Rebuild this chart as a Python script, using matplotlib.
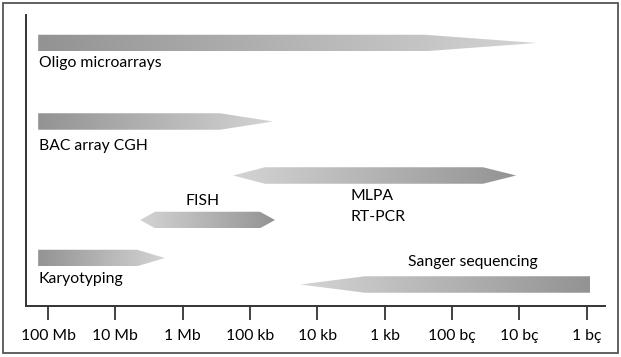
import numpy as np
import matplotlib
matplotlib.use("Agg")
import matplotlib.pyplot as plt
from matplotlib.patches import Polygon, Rectangle
from matplotlib.colors import LinearSegmentedColormap

# ---- data ----
tick_labels = ["100 Mb", "10 Mb", "1 Mb", "100 kb", "10 kb", "1 kb", "100 bç", "10 bç", "1 bç"]
tick_bp = [1e8, 1e7, 1e6, 1e5, 1e4, 1e3, 1e2, 1e1, 1e0]

methods = ["Oligo microarrays", "BAC array CGH", "MLPA\nRT-PCR", "FISH", "Karyotyping", "Sanger sequencing"]
start_bp = [1.4e8, 1.4e8, 1.79e5, 4.3e6, 1.4e8, 1.8e4]   # largest size (left end)
end_bp = [5.5, 4.56e4, 11.2, 4.26e4, 1.83e6, 0.89]      # smallest size (right end)

# ---- styles ----
# arrow kind: 'right' (flat left, point right), 'both', 'left' (point left, flat right)
kinds = ["right", "right", "both", "both", "right", "left"]
head_left = [0, 0, 0.475, 0.223, 0, 0.965]     # decades
head_right = [1.664, 0.787, 0.49, 0.223, 0.415, 0]
row_y = [263, 184.5, 130.5, 86, 48, 21.5]        # axes units (pixel-like)
bar_h = 16.5
dark_to_light = [True, True, False, False, True, False]

W, H = 621, 357
fig = plt.figure(figsize=(W / 100, H / 100), dpi=100)
ax = fig.add_axes([26 / W, (H - 306) / H, (605 - 26) / W, (306 - 15) / H])

def pos(bp):
    return 8 - np.log10(bp)

ax.set_xlim(-0.3267, 8.271)
ax.set_ylim(0, 291)

cmap = LinearSegmentedColormap.from_list("g", ["#939393", "#d4d4d4"])
grad = np.linspace(0, 1, 256).reshape(1, -1)

for i in range(len(methods)):
    x0, x1 = pos(start_bp[i]), pos(end_bp[i])
    yc = row_y[i]
    lo, hi = yc - bar_h / 2, yc + bar_h / 2
    k = kinds[i]
    if k == "right":
        xb = x1 - head_right[i]
        verts = [(x0, lo), (xb, lo), (x1, yc), (xb, hi), (x0, hi)]
    elif k == "both":
        xa = x0 + head_left[i]
        xb = x1 - head_right[i]
        verts = [(x0, yc), (xa, lo), (xb, lo), (x1, yc), (xb, hi), (xa, hi)]
    else:
        xa = x0 + head_left[i]
        verts = [(x0, yc), (xa, lo), (x1, lo), (x1, hi), (xa, hi)]
    poly = Polygon(verts, closed=True, facecolor="none", edgecolor="none")
    ax.add_patch(poly)
    g = grad if dark_to_light[i] else grad[:, ::-1]
    im = ax.imshow(g, cmap=cmap, aspect="auto", extent=[x0, x1, lo, hi],
                   interpolation="bilinear", vmin=0, vmax=1, zorder=2)
    im.set_clip_path(poly)

font = "Lato"
fs = 11.3
def ypx(y):
    return 306 - y

ax.text(pos(start_bp[0]) + 0.01, ypx(66.5), methods[0], fontsize=fs, family=font, va="baseline", ha="left")
ax.text(pos(start_bp[1]) + 0.01, ypx(150), methods[1], fontsize=fs, family=font, va="baseline", ha="left")
ax.text((350.7 - 48) / 67.34, ypx(200), "MLPA", fontsize=fs, family=font, va="baseline", ha="left")
ax.text((350.7 - 48) / 67.34, ypx(220.7), "RT-PCR", fontsize=fs, family=font, va="baseline", ha="left")
ax.text((203 - 48) / 67.34, ypx(205), methods[3], fontsize=fs, family=font, va="baseline", ha="center")
ax.text(pos(start_bp[4]) + 0.01, ypx(283.3), methods[4], fontsize=fs, family=font, va="baseline", ha="left")
ax.text((408.3 - 48) / 67.34, ypx(266), methods[5], fontsize=fs, family=font, va="baseline", ha="left")

ax.set_xticks([pos(b) for b in tick_bp])
ax.set_xticklabels(tick_labels, fontsize=fs, family=font)
ax.set_yticks([])
ax.tick_params(axis="x", direction="out", length=10, width=1.3, color="#333333", pad=6.5)
for s in ["top", "right"]:
    ax.spines[s].set_visible(False)
for s in ["left", "bottom"]:
    ax.spines[s].set_color("#333333")
    ax.spines[s].set_linewidth(1.4)

fig.patches.append(Rectangle((3 / W, 4 / H), (618 - 3) / W, (354 - 4) / H, transform=fig.transFigure,
                             fill=False, edgecolor="#555555", linewidth=1.3))

fig.savefig("out.png", dpi=100)
